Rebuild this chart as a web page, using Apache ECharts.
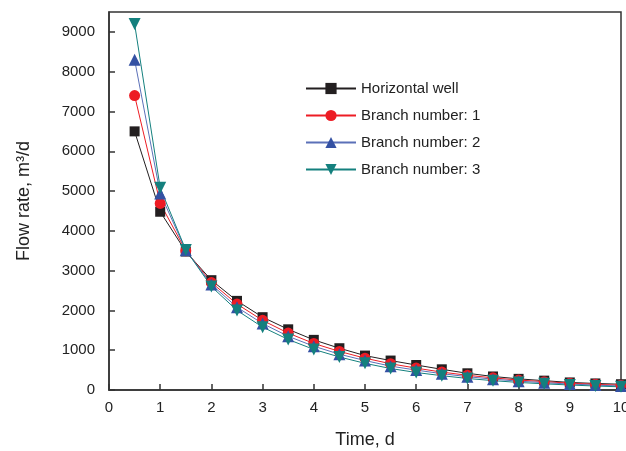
<!DOCTYPE html>
<html>
<head>
<meta charset="UTF-8">
<title>Flow rate vs time</title>
<script src="https://cdn.jsdelivr.net/npm/echarts@6/dist/echarts.min.js"></script>
<style>
  html, body { margin: 0; padding: 0; background: #fff; }
  #main { width: 626px; height: 451px; }
</style>
</head>
<body>
<div id="main"></div>
<script>
// time, d
var times = [0.5, 1, 1.5, 2, 2.5, 3, 3.5, 4, 4.5, 5, 5.5, 6, 6.5, 7, 7.5, 8, 8.5, 9, 9.5, 10];
// flow rate, m3/d
var horizontalWell = [6500, 4480, 3480, 2760, 2240, 1830, 1525, 1260, 1050, 865, 740, 628, 520, 420, 340, 280, 235, 190, 165, 145];
var branch1 = [7400, 4690, 3500, 2700, 2160, 1750, 1430, 1170, 970, 800, 660, 550, 450, 370, 305, 250, 210, 172, 142, 120];
var branch2 = [8300, 4940, 3510, 2650, 2080, 1670, 1350, 1100, 900, 740, 600, 500, 410, 335, 272, 222, 183, 150, 123, 100];
var branch3 = [9200, 5080, 3520, 2600, 2000, 1580, 1270, 1020, 830, 670, 540, 440, 360, 290, 235, 190, 155, 125, 100, 80];
var yTicks = [0, 1000, 2000, 3000, 4000, 5000, 6000, 7000, 8000, 9000];

function pairs(arr) {
  return times.map(function (t, i) { return [t, arr[i]]; });
}

var chart = echarts.init(document.getElementById('main'));
var font = 'Arial, "Liberation Sans", sans-serif';

var option = {
  animation: false,
  textStyle: { fontFamily: font },
  grid: {
    left: 109, right: 5, top: 12, bottom: 61,
    show: true, borderColor: '#333', borderWidth: 1.5,
    containLabel: false, outerBoundsMode: 'none'
  },
  legend: {
    orient: 'vertical',
    left: 300, top: 76,
    itemWidth: 50, itemHeight: 14, itemGap: 12,
    textStyle: { fontSize: 15, color: '#222', fontFamily: font },
    data: ['Horizontal well', 'Branch number: 1', 'Branch number: 2', 'Branch number: 3']
  },
  xAxis: {
    type: 'value', min: 0, max: 10, interval: 1,
    name: 'Time, d', nameLocation: 'middle', nameGap: 41,
    nameTextStyle: { fontSize: 18, color: '#222' },
    axisLine: { lineStyle: { color: '#333', width: 1.5 } },
    axisTick: { inside: true, length: 6, lineStyle: { color: '#333', width: 1.5 } },
    axisLabel: { fontSize: 15, color: '#222', margin: 10 },
    splitLine: { show: false }
  },
  yAxis: {
    type: 'value', min: 0, max: 9500, interval: 1000,
    name: 'Flow rate, m³/d', nameLocation: 'middle', nameGap: 76,
    nameTextStyle: { fontSize: 18, color: '#222' },
    axisLine: { show: true, lineStyle: { color: '#333', width: 1.5 } },
    axisTick: { inside: true, length: 6, lineStyle: { color: '#333', width: 1.5 } },
    axisLabel: {
      fontSize: 15, color: '#222', margin: 14, showMaxLabel: false,
      formatter: function (v) { return yTicks.indexOf(v) >= 0 ? String(v) : ''; }
    },
    splitLine: { show: false }
  },
  series: [
    {
      name: 'Horizontal well', type: 'line', data: pairs(horizontalWell),
      symbol: 'rect', symbolSize: 10,
      itemStyle: { color: '#231f20' },
      lineStyle: { color: '#231f20', width: 1 }
    },
    {
      name: 'Branch number: 1', type: 'line', data: pairs(branch1),
      symbol: 'circle', symbolSize: 11,
      itemStyle: { color: '#ed1c24' },
      lineStyle: { color: '#ed1c24', width: 1 }
    },
    {
      name: 'Branch number: 2', type: 'line', data: pairs(branch2),
      symbol: 'triangle', symbolSize: 12,
      itemStyle: { color: '#3451a3' },
      lineStyle: { color: '#5b70b8', width: 1 }
    },
    {
      name: 'Branch number: 3', type: 'line', data: pairs(branch3),
      symbol: 'triangle', symbolRotate: 180, symbolSize: 12,
      itemStyle: { color: '#14807e' },
      lineStyle: { color: '#14807e', width: 1 }
    }
  ]
};

chart.setOption(option);
</script>
</body>
</html>
